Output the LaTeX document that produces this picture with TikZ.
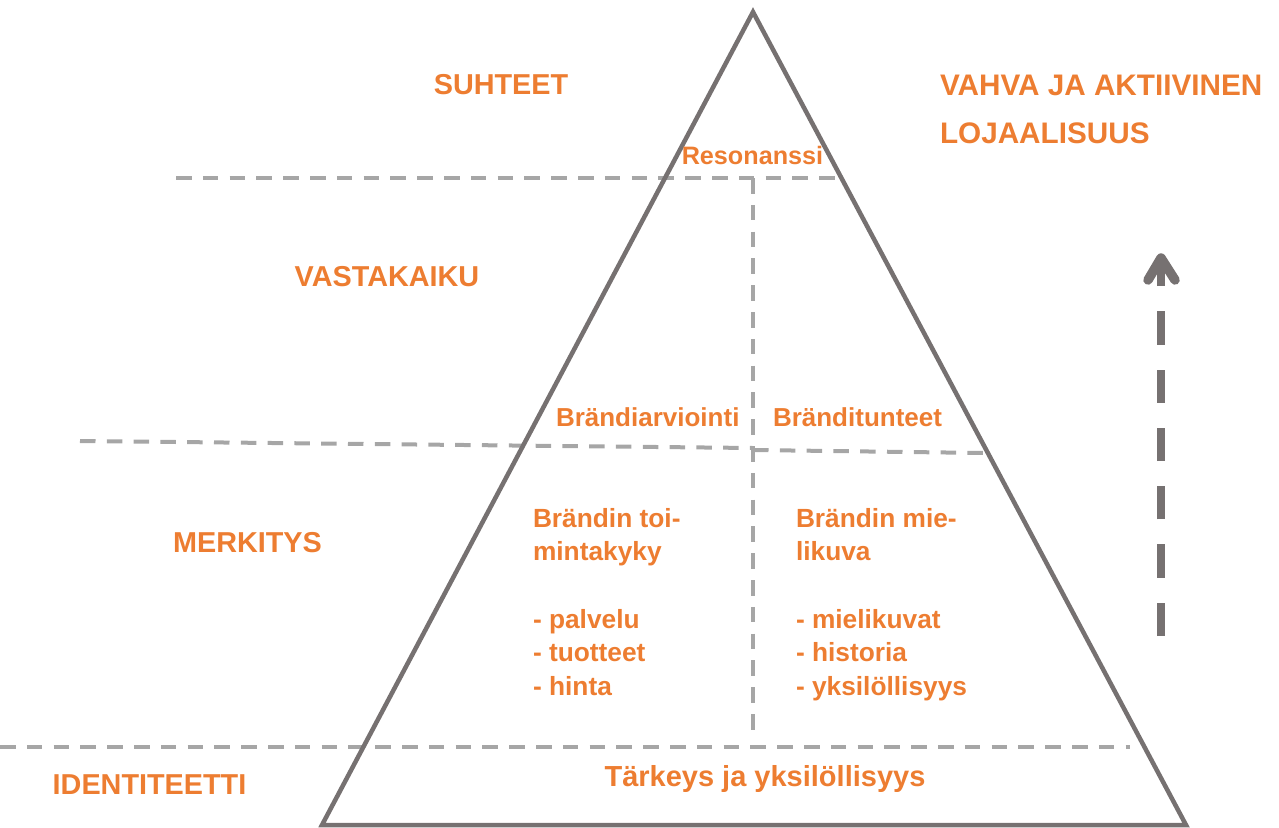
\documentclass[tikz,border=0pt]{standalone}
\usepackage{fontspec}
\setmainfont{Liberation Sans}
\definecolor{brandorange}{RGB}{237,125,49}
\definecolor{pyrgray}{RGB}{118,113,113}
\definecolor{guidegray}{RGB}{166,166,166}
\newcommand{\fsz}[1]{\bfseries\fontsize{#1}{#1}\selectfont}
\begin{document}
\begin{tikzpicture}[x=1pt,y=-1pt,
  txt/.style={text=brandorange,inner sep=0pt,outer sep=0pt},
  level/.style={txt,font=\fsz{28.8}},
  goal/.style={txt,font=\fsz{29.7}},
  small/.style={txt,font=\fsz{25.2}},
  mid/.style={txt,font=\fsz{26}},
  col/.style={txt,font=\fsz{26.3}},
  base/.style={txt,font=\fsz{29}},
  pyramid/.style={draw=pyrgray,line width=4.5pt,line join=miter},
  guide/.style={draw=guidegray,line width=4pt,dash pattern=on 15.5pt off 11.3pt},
  riser/.style={draw=pyrgray,line width=8pt,dash pattern=on 33.3pt off 25pt},
  riserhead/.style={draw=pyrgray,line width=9.5pt,line cap=round,line join=round}]
\useasboundingbox (0,0) rectangle (1279,827);

% pyramid outline
\coordinate (apex) at (753,12);
\coordinate (bl) at (322,825);
\coordinate (br) at (1186,825);

% level separators
\coordinate (g1a) at (176,178);
\coordinate (g1b) at (838,178);
\coordinate (vtop) at (753,178);
\coordinate (vbot) at (753,730);
\coordinate (g2a) at (80,441);
\coordinate (g2m) at (753,448);
\coordinate (g2n) at (753,450);
\coordinate (g2b) at (985,453);
\coordinate (g3a) at (0,747);
\coordinate (g3b) at (1130,747);

\draw[guide] (g1a) -- (g1b);
\draw[guide] (vtop) -- (vbot);
\draw[guide] (g2a) -- (g2m);
\draw[guide] (g2n) -- (g2b);
\draw[guide] (g3a) -- (g3b);

\draw[pyramid] (apex) -- (br) -- (bl) -- cycle;

% upward arrow on the right
\coordinate (rs) at (1161,636);
\coordinate (re) at (1161,262);
\coordinate (hl) at (1148,280);
\coordinate (ht) at (1161,258);
\coordinate (hr) at (1175,280);
\draw[riser] (rs) -- (re);
\draw[riserhead] (hl) -- (ht) -- (hr);

% level names
\node[level,anchor=base] (suhteet) at (501,94) {SUHTEET};
\node[level,anchor=base] (vastakaiku) at (387,286) {VASTAKAIKU};
\node[level,anchor=base] (merkitys) at (247.5,552) {MERKITYS};
\node[level,anchor=base] (identiteetti) at (149.5,794) {IDENTITEETTI};

% goal
\node[goal,anchor=base west] (vahva) at (940,95) {VAHVA JA AKTIIVINEN};
\node[goal,anchor=base west] (lojaal) at (940,143) {LOJAALISUUS};

% pyramid contents
\node[small,anchor=base] (resonanssi) at (752.5,164) {Resonanssi};
\node[mid,anchor=base west] (arviointi) at (556,426) {Brändiarviointi};
\node[mid,anchor=base west] (tunteet) at (773,426) {Bränditunteet};

\foreach \t [count=\i] in {Brändin toi-,mintakyky,,- palvelu,- tuotteet,- hinta}
  \node[col,anchor=base west] (left\i) at (533,{527+33.7*(\i-1)}) {\t};
\foreach \t [count=\i] in {Brändin mie-,likuva,,- mielikuvat,- historia,- yksilöllisyys}
  \node[col,anchor=base west] (right\i) at (796,{527+33.7*(\i-1)}) {\t};

\node[base,anchor=base] (tarkeys) at (765,786) {Tärkeys ja yksilöllisyys};
\end{tikzpicture}
\end{document}
